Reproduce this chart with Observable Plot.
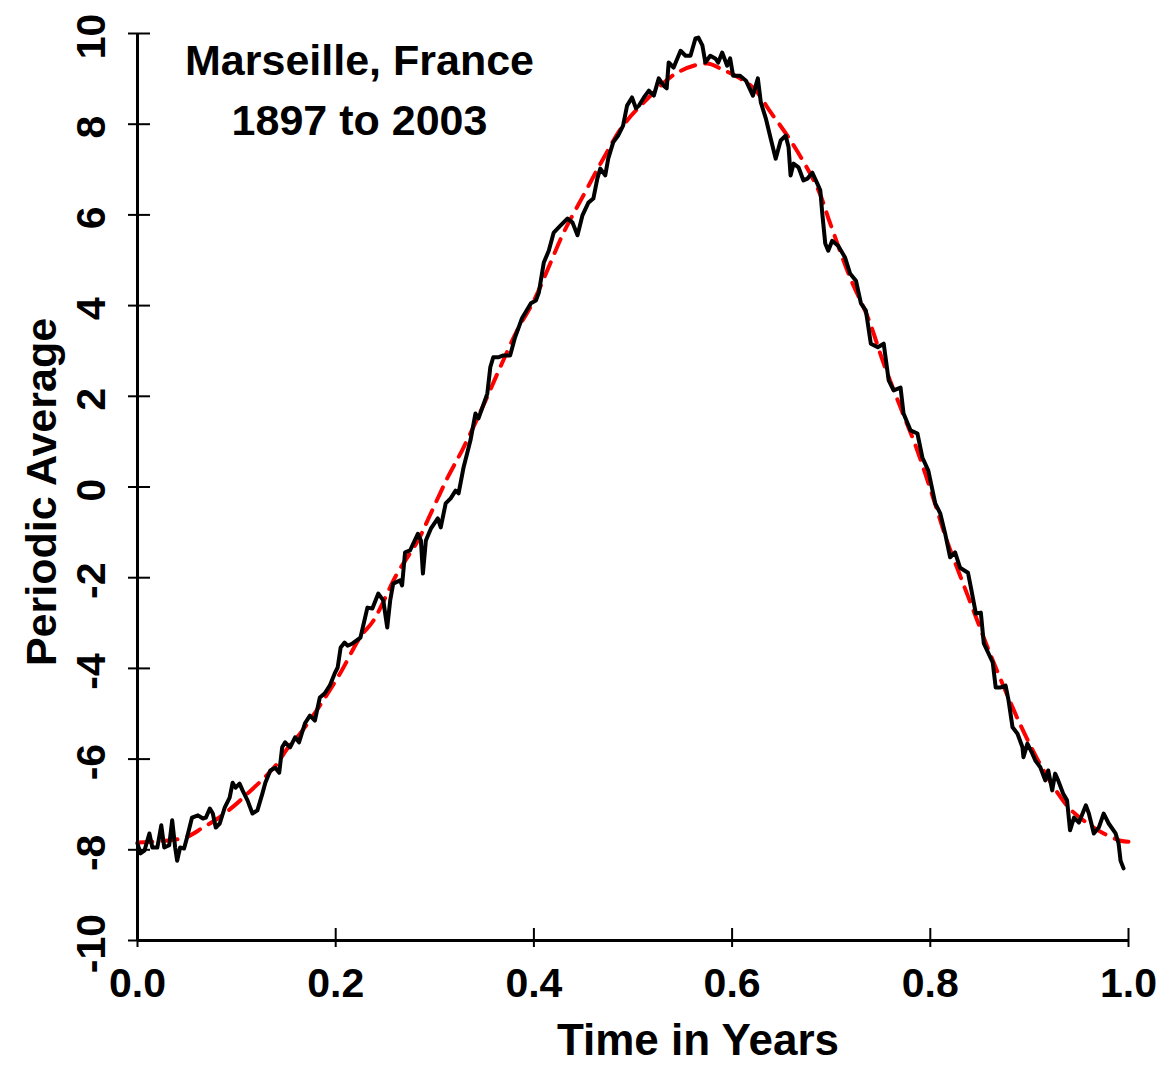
<!DOCTYPE html>
<html><head><meta charset="utf-8">
<script src="https://cdn.jsdelivr.net/npm/d3@7"></script>
<script src="https://cdn.jsdelivr.net/npm/@observablehq/plot@0.6"></script>
<style>body{margin:0;background:#fff} svg{display:block}</style>
</head><body><div id="chart"></div>
<script>
// Observed periodic average (black line)
const timeObs = [0.000,0.003,0.007,0.012,0.015,0.020,0.024,0.027,0.032,0.035,
0.038,0.040,0.043,0.047,0.050,0.055,0.061,0.066,0.069,0.073,
0.076,0.079,0.083,0.088,0.093,0.096,0.099,0.103,0.106,0.111,
0.116,0.121,0.126,0.129,0.134,0.139,0.143,0.146,0.149,0.154,
0.159,0.163,0.169,0.174,0.179,0.184,0.189,0.194,0.199,0.202,
0.205,0.209,0.212,0.217,0.225,0.232,0.237,0.243,0.248,0.252,
0.255,0.258,0.265,0.267,0.270,0.275,0.283,0.286,0.288,0.291,
0.296,0.303,0.306,0.311,0.316,0.321,0.324,0.329,0.336,0.341,
0.344,0.348,0.353,0.356,0.359,0.364,0.369,0.376,0.381,0.388,
0.397,0.402,0.405,0.410,0.415,0.420,0.427,0.434,0.439,0.444,
0.449,0.455,0.460,0.464,0.467,0.472,0.475,0.480,0.485,0.490,
0.494,0.499,0.503,0.506,0.511,0.516,0.521,0.526,0.531,0.534,
0.536,0.541,0.548,0.553,0.558,0.563,0.566,0.570,0.573,0.578,
0.583,0.586,0.590,0.595,0.598,0.601,0.608,0.614,0.621,0.626,
0.629,0.634,0.639,0.644,0.649,0.654,0.657,0.659,0.662,0.667,
0.672,0.676,0.681,0.686,0.689,0.691,0.694,0.697,0.701,0.707,
0.714,0.719,0.725,0.730,0.735,0.740,0.747,0.753,0.758,0.763,
0.770,0.773,0.780,0.787,0.792,0.798,0.805,0.810,0.815,0.820,
0.825,0.830,0.838,0.841,0.846,0.851,0.854,0.863,0.866,0.871,
0.876,0.879,0.883,0.888,0.893,0.894,0.898,0.903,0.906,0.911,
0.916,0.919,0.923,0.926,0.929,0.934,0.938,0.941,0.945,0.950,
0.957,0.960,0.965,0.970,0.975,0.980,0.987,0.990,0.992,0.995];
const avgObs = [-7.86,-8.08,-8.02,-7.64,-7.95,-7.95,-7.46,-7.95,-7.90,-7.35,
-7.95,-8.24,-7.95,-7.97,-7.73,-7.29,-7.24,-7.31,-7.29,-7.09,
-7.20,-7.51,-7.42,-7.07,-6.85,-6.52,-6.63,-6.54,-6.69,-6.91,
-7.20,-7.13,-6.76,-6.52,-6.25,-6.19,-6.30,-5.74,-5.63,-5.74,
-5.52,-5.63,-5.21,-5.04,-5.15,-4.64,-4.55,-4.38,-4.11,-3.98,
-3.54,-3.43,-3.50,-3.45,-3.32,-2.66,-2.68,-2.35,-2.50,-3.10,
-2.50,-2.13,-2.06,-2.17,-1.44,-1.40,-1.03,-1.18,-1.91,-1.18,
-0.92,-0.69,-0.89,-0.36,-0.25,-0.08,-0.14,0.43,1.03,1.62,
1.51,1.75,2.06,2.64,2.86,2.86,2.90,2.90,3.30,3.72,
4.05,4.11,4.29,4.95,5.21,5.61,5.77,5.92,5.83,5.55,
5.99,6.27,6.36,6.80,7.02,6.87,7.24,7.60,7.75,7.97,
8.41,8.59,8.35,8.41,8.59,8.74,8.63,9.01,8.85,8.79,
9.36,9.25,9.62,9.51,9.51,9.89,9.91,9.74,9.36,9.51,
9.45,9.36,9.58,9.29,9.45,9.07,9.07,8.96,8.63,9.01,
8.48,8.13,7.68,7.24,7.64,7.75,7.49,6.87,7.13,7.05,
6.76,6.80,6.93,6.69,6.54,6.03,5.37,5.21,5.43,5.32,
5.06,4.71,4.55,4.05,3.89,3.16,3.08,3.16,2.35,2.13,
2.19,1.62,1.25,1.18,0.65,0.36,-0.36,-0.58,-1.03,-1.55,
-1.44,-1.78,-1.89,-2.22,-2.79,-2.77,-3.45,-3.87,-4.42,-4.42,
-4.38,-4.71,-5.30,-5.44,-5.74,-5.96,-5.66,-5.88,-6.03,-6.18,
-6.47,-6.25,-6.69,-6.32,-6.47,-6.76,-6.91,-7.57,-7.29,-7.40,
-7.02,-7.20,-7.64,-7.51,-7.20,-7.42,-7.64,-7.86,-8.24,-8.41];

// Fitted curve (red dashed)
const timeFit = [0,0.048,0.066,0.081,0.098,0.111,0.128,0.141,0.151,0.164,
0.184,0.205,0.225,0.238,0.262,0.283,0.296,0.313,0.329,0.349,
0.366,0.383,0.400,0.414,0.430,0.450,0.470,0.490,0.515,0.545,
0.575,0.588,0.608,0.622,0.639,0.659,0.686,0.699,0.719,0.737,
0.753,0.770,0.787,0.803,0.817,0.830,0.844,0.858,0.874,0.891,
0.908,0.924,0.941,0.959,0.975,0.992,1.000];
const avgFit = [-7.84,-7.73,-7.51,-7.31,-7.02,-6.76,-6.41,-6.10,-5.77,-5.44,
-4.82,-4.09,-3.30,-2.95,-1.91,-1.18,-0.58,0.21,0.87,1.80,
2.64,3.45,4.11,4.80,5.61,6.43,7.24,7.97,8.57,9.14,
9.34,9.23,9.01,8.79,8.26,7.64,6.60,5.81,4.62,3.74,
2.72,1.75,0.80,-0.25,-1.20,-1.95,-2.75,-3.55,-4.40,-5.25,
-6.00,-6.60,-7.10,-7.42,-7.64,-7.80,-7.82];

const xTicks = [0, 0.2, 0.4, 0.6, 0.8, 1.0];
const xTickLabels = ["0.0","0.2","0.4","0.6","0.8","1.0"];
const yTicks = [-10,-8,-6,-4,-2,0,2,4,6,8,10];
const yTickLabels = ["-10","-8","-6","-4","-2","0","2","4","6","8","10"];
const titleLines = ["Marseille, France", "1897 to 2003"];
const xTitle = "Time in Years";
const yTitle = "Periodic Average";

const obs = timeObs.map((t, i) => ({t, v: avgObs[i]}));
const fit = timeFit.map((t, i) => ({t, v: avgFit[i]}));

const W = 1158, H = 1065, mL = 137, mR = 30, mT = 33, mB = 125;
const plotW = W - mL - mR, plotH = H - mT - mB;
const font = "'Liberation Sans', Arial, Helvetica, sans-serif";

const chart = Plot.plot({
  width: W, height: H,
  marginLeft: mL, marginRight: mR, marginTop: mT, marginBottom: mB,
  style: {fontFamily: font, background: "white", color: "black"},
  x: {domain: [0, 1], axis: null},
  y: {domain: [-10, 10], axis: null},
  marks: [
    Plot.lineY(fit, {x: "t", y: "v", stroke: "#ff0000", strokeWidth: 4, strokeDasharray: "15,10", curve: "catmull-rom"}),
    Plot.lineY(obs, {x: "t", y: "v", stroke: "black", strokeWidth: 4, strokeLinejoin: "round", strokeLinecap: "round"}),
    Plot.ruleX([xTicks[0]], {stroke: "black", strokeWidth: 3}),
    Plot.ruleY([yTicks[0]], {stroke: "black", strokeWidth: 3}),
    Plot.tickY(yTicks, {y: d => d, stroke: "black", strokeWidth: 2, insetRight: plotW - 22, dx: -9}),
    Plot.tickX(xTicks, {x: d => d, stroke: "black", strokeWidth: 2, insetTop: plotH - 19, dy: 7}),
    Plot.text(yTicks, {y: d => d, text: (d, i) => yTickLabels[i], frameAnchor: "left", textAnchor: "middle", lineAnchor: "middle", dx: -46, dy: 3, rotate: -90, fontSize: 41, fontWeight: "bold", fill: "black"}),
    Plot.text(xTicks, {x: d => d, text: (d, i) => xTickLabels[i], frameAnchor: "bottom", textAnchor: "middle", lineAnchor: "middle", dy: 43, fontSize: 41, fontWeight: "bold", fill: "black"}),
    Plot.text([xTitle], {text: d => d, frameAnchor: "bottom", textAnchor: "middle", lineAnchor: "middle", dx: 65, dy: 100, fontSize: 44, fontWeight: "bold", fill: "black"}),
    Plot.text([yTitle], {text: d => d, frameAnchor: "left", textAnchor: "middle", lineAnchor: "middle", dx: -95, dy: 5, rotate: -90, fontSize: 43, fontWeight: "bold", fill: "black"}),
    Plot.text([titleLines.join("\n")], {text: d => d, frameAnchor: "top-left", textAnchor: "middle", lineAnchor: "middle", dx: 222, dy: 52, lineHeight: 1.395, fontSize: 43, fontWeight: "bold", fill: "black"})
  ]
});
document.getElementById("chart").appendChild(chart);
</script>
</body></html>
